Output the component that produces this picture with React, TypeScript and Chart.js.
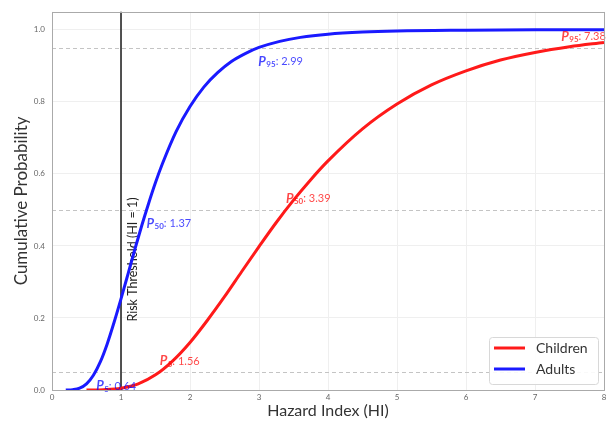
import { useEffect, useRef } from 'react';
import { Chart, registerables } from 'chart.js';

Chart.register(...registerables);

// ---- data ----
const adultsX = [0.2, 0.3, 0.4, 0.5, 0.6, 0.7, 0.8, 0.9, 1.0, 1.1, 1.2, 1.3, 1.4, 1.5, 1.6, 1.8, 2.0, 2.2, 2.4, 2.6, 2.8, 3.0, 3.3, 3.6, 4.0, 4.5, 5.0, 6.0, 7.0, 8.0];
const adultsY = [0.0, 0.001, 0.005, 0.017, 0.041, 0.078, 0.128, 0.188, 0.253, 0.321, 0.39, 0.456, 0.518, 0.576, 0.628, 0.718, 0.787, 0.841, 0.881, 0.912, 0.934, 0.951, 0.968, 0.979, 0.988, 0.994, 0.997, 0.999, 1.0, 1.0];
const childrenX = [0.5, 0.75, 1.0, 1.25, 1.5, 1.75, 2.0, 2.25, 2.5, 2.75, 3.0, 3.25, 3.5, 3.75, 4.0, 4.5, 5.0, 5.5, 6.0, 6.5, 7.0, 7.5, 8.0];
const childrenY = [0.0, 0.001, 0.005, 0.017, 0.042, 0.081, 0.132, 0.193, 0.259, 0.329, 0.398, 0.465, 0.527, 0.584, 0.636, 0.725, 0.794, 0.847, 0.886, 0.916, 0.937, 0.953, 0.965];

const seriesNames = ['Children', 'Adults'];
const seriesColors = ['#ff1a1a', '#1a1aff'];
const labelColors = ['rgba(255,0,0,0.72)', 'rgba(0,0,255,0.72)'];

const pctLevels = [0.05, 0.5, 0.95];
const pctNames = ['5', '50', '95'];
const childrenPct = [1.56, 3.39, 7.38];
const adultsPct = [0.64, 1.37, 2.99];

const thresholdHI = 1;
const thresholdText = 'Risk Threshold (HI = 1)';
const thresholdTextY = 0.19;

const xTitle = 'Hazard Index (HI)';
const yTitle = 'Cumulative Probability';
const xMin = 0, xMax = 8, xStep = 1;
const yMin = 0, yMax = 1.05, yStep = 0.2;

const FONT = 'Lato, "Open Sans", sans-serif';

const overlayPlugin = {
  id: 'overlay',
  beforeDatasetsDraw(chart: any) {
    const { ctx, chartArea: a, scales } = chart;
    const xs = scales.x, ys = scales.y;
    ctx.save();
    // dashed percentile levels
    ctx.strokeStyle = '#c4c4c4';
    ctx.lineWidth = 1;
    ctx.setLineDash([4, 3]);
    pctLevels.forEach((lv) => {
      const py = Math.round(ys.getPixelForValue(lv)) + 0.5;
      ctx.beginPath();
      ctx.moveTo(a.left, py);
      ctx.lineTo(a.right, py);
      ctx.stroke();
    });
    ctx.setLineDash([]);
    // threshold line
    const tx = xs.getPixelForValue(thresholdHI);
    ctx.strokeStyle = '#1a1a1a';
    ctx.lineWidth = 1.5;
    ctx.beginPath();
    ctx.moveTo(tx, a.top);
    ctx.lineTo(tx, a.bottom);
    ctx.stroke();
    // threshold text
    ctx.translate(tx + 12, ys.getPixelForValue(thresholdTextY));
    ctx.rotate(-Math.PI / 2);
    ctx.font = `12.5px ${FONT}`;
    ctx.fillStyle = '#222';
    ctx.textAlign = 'left';
    ctx.textBaseline = 'middle';
    ctx.fillText(thresholdText, 0, 0);
    ctx.restore();
  },
  afterDatasetsDraw(chart: any) {
    const { ctx, chartArea: a, scales } = chart;
    const xs = scales.x, ys = scales.y;
    ctx.save();
    const drawLabel = (val: number, lv: number, name: string, color: string, below: boolean) => {
      let px = xs.getPixelForValue(val);
      const py = ys.getPixelForValue(lv) + (below ? 14 : -11);
      ctx.fillStyle = color;
      ctx.textBaseline = 'middle';
      ctx.textAlign = 'left';
      ctx.font = `italic bold 13px ${FONT}`;
      ctx.fillText('P', px, py);
      px += ctx.measureText('P').width + 0.5;
      ctx.font = `bold 8px ${FONT}`;
      ctx.fillText(name, px, py + 3);
      px += ctx.measureText(name).width;
      ctx.font = `11px ${FONT}`;
      ctx.fillText(': ' + val.toFixed(2), px, py);
    };
    childrenPct.forEach((v, i) => drawLabel(v, pctLevels[i], pctNames[i], labelColors[0], false));
    adultsPct.forEach((v, i) => drawLabel(v, pctLevels[i], pctNames[i], labelColors[1], true));

    // frame
    ctx.strokeStyle = '#aaaaaa';
    ctx.lineWidth = 1;
    ctx.strokeRect(Math.round(a.left) + 0.5, Math.round(a.top) + 0.5, Math.round(a.right - a.left), Math.round(a.bottom - a.top));

    // legend
    const bx = 489, by = 337, bw = 109, bh = 47;
    ctx.beginPath();
    ctx.roundRect(bx + 0.5, by + 0.5, bw, bh, 3);
    ctx.fillStyle = 'rgba(255,255,255,0.9)';
    ctx.fill();
    ctx.strokeStyle = '#d8d8d8';
    ctx.stroke();
    seriesNames.forEach((n, i) => {
      const ly = by + 11 + i * 21;
      ctx.strokeStyle = seriesColors[i];
      ctx.lineWidth = 3;
      ctx.beginPath();
      ctx.moveTo(bx + 5, ly);
      ctx.lineTo(bx + 36, ly);
      ctx.stroke();
      ctx.fillStyle = '#333';
      ctx.font = `14px ${FONT}`;
      ctx.textAlign = 'left';
      ctx.textBaseline = 'middle';
      ctx.fillText(n, bx + 47, ly);
    });
    ctx.restore();
  },
};

export default function App() {
  const ref = useRef<HTMLCanvasElement>(null);
  useEffect(() => {
    document.body.style.margin = '0';
    const canvas = ref.current!;
    const chart = new Chart(canvas, {
      type: 'scatter',
      data: {
        datasets: [
          {
            label: seriesNames[0],
            data: childrenX.map((x, i) => ({ x, y: childrenY[i] })),
            borderColor: seriesColors[0],
            backgroundColor: seriesColors[0],
            borderWidth: 3,
            showLine: true,
            pointRadius: 0,
            cubicInterpolationMode: 'monotone',
          },
          {
            label: seriesNames[1],
            data: adultsX.map((x, i) => ({ x, y: adultsY[i] })),
            borderColor: seriesColors[1],
            backgroundColor: seriesColors[1],
            borderWidth: 3,
            showLine: true,
            pointRadius: 0,
            cubicInterpolationMode: 'monotone',
          },
        ],
      },
      options: {
        animation: false,
        responsive: false,
        devicePixelRatio: 1,
        layout: { padding: { top: 7, right: 9, left: 0, bottom: 0 } },
        plugins: { legend: { display: false }, tooltip: { enabled: false } },
        scales: {
          x: {
            type: 'linear',
            min: xMin,
            max: xMax,
            ticks: { stepSize: xStep, padding: 3, color: '#666', font: { family: FONT, size: 8 } },
            grid: { color: '#efefef', tickLength: 0 },
            border: { display: false },
            title: { display: true, text: xTitle, color: '#333', font: { family: FONT, size: 16 }, padding: { top: 0, bottom: 3 } },
            afterFit: (s: any) => { s.height = 33; },
          },
          y: {
            type: 'linear',
            min: yMin,
            max: yMax,
            afterBuildTicks: (s: any) => {
              const t = [];
              for (let v = yMin; v <= 1.0001; v += yStep) t.push({ value: Math.round(v * 10) / 10 });
              s.ticks = t;
            },
            ticks: { padding: 7, color: '#666', font: { family: FONT, size: 8 }, callback: (v: any) => Number(v).toFixed(1) },
            grid: { color: '#efefef', tickLength: 0 },
            border: { display: false },
            title: { display: true, text: yTitle, color: '#333', font: { family: FONT, size: 17 }, padding: { top: 11, bottom: 0 } },
            afterFit: (s: any) => { s.width = 52; },
          },
        },
      } as any,
      plugins: [overlayPlugin],
    });
    return () => chart.destroy();
  }, []);
  return <canvas ref={ref} width={613} height={423} />;
}
